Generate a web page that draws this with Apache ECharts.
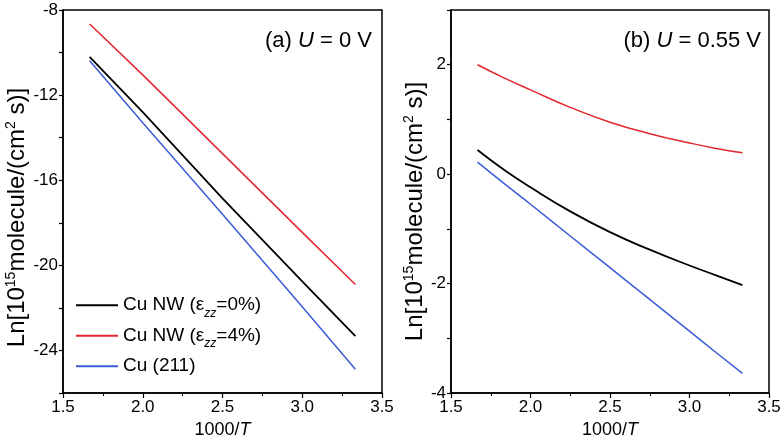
<!DOCTYPE html>
<html>
<head>
<meta charset="utf-8">
<script src="https://cdn.jsdelivr.net/npm/echarts@6/dist/echarts.min.js"></script>
<style>
  html, body { margin: 0; padding: 0; background: #fff; }
  #chart { width: 784px; height: 444px; }
</style>
</head>
<body>
<div id="chart"></div>
<script>
  // 1000/T values
  var xA = [1.667, 2.0, 2.5, 3.0, 3.333];
  // panel (a) U = 0 V
  var aBlack = [-10.2, -12.8, -16.85, -20.75, -23.33];
  var aRed = [-8.66, -11.05, -14.75, -18.45, -20.9];
  var aBlue = [-10.38, -13.3, -17.6, -21.95, -24.88];

  var xB = [1.667, 1.833, 2.0, 2.25, 2.5, 2.75, 3.0, 3.167, 3.333];
  // panel (b) U = 0.55 V
  var bBlack = [0.44, 0.08, -0.24, -0.68, -1.06, -1.38, -1.67, -1.85, -2.03];
  var bRed = [2.0, 1.76, 1.54, 1.22, 0.95, 0.74, 0.57, 0.47, 0.39];
  var bBlue = [0.22, -0.17, -0.55, -1.13, -1.71, -2.29, -2.87, -3.26, -3.64];

  var names = ['Cu NW ({n|ε}{sub|zz}{n|=0%})', 'Cu NW ({n|ε}{sub|zz}{n|=4%})', 'Cu (211)'];
  var colors = ['#000000', '#e3262d', '#3b5bd7'];

  function pairs(xs, ys) {
    return xs.map(function (x, i) { return [x, ys[i]]; });
  }

  var font = 'Liberation Sans, Arial, sans-serif';
  var axisLine = { onZero: false, lineStyle: { color: '#000', width: 1.5 } };
  var yName = 'Ln[10{sup|15}molecule/(cm{sup|2} s)]';
  function nameStyle(pad) {
    return {
      color: '#000', fontFamily: font, fontSize: 24, padding: pad,
      rich: {
        sup: { fontSize: 14, fontFamily: font, color: '#000', verticalAlign: 'top', padding: [0, 0, 12, 0] }
      }
    };
  }
  var xNameStyle = {
    color: '#000', fontFamily: font, fontSize: 18,
    rich: { i: { fontStyle: 'italic', fontSize: 18, fontFamily: font, color: '#000' } }
  };

  function xAxis(idx) {
    return {
      type: 'value', gridIndex: idx, min: 1.5, max: 3.5, interval: 0.5,
      name: '1000/{i|T}', nameLocation: 'middle', nameGap: 28, nameTextStyle: xNameStyle,
      axisLine: axisLine,
      axisTick: { length: 5, lineStyle: { color: '#000', width: 1.2 } },
      minorTick: { show: true, splitNumber: 2, length: 3, lineStyle: { color: '#000' } },
      axisLabel: { color: '#000', fontFamily: font, fontSize: 17, margin: 6,
        formatter: function (v) { return v.toFixed(1); } },
      splitLine: { show: false }
    };
  }

  var titleStyle = { color: '#000', fontFamily: font, fontSize: 22, fontWeight: 'normal',
    rich: { i: { fontStyle: 'italic', fontSize: 22, fontFamily: font, color: '#000' } } };

  var chart = echarts.init(document.getElementById('chart'));
  chart.setOption({
    backgroundColor: '#fff',
    animation: false,
    color: colors,
    title: [
      { text: '(a) {i|U} = 0 V', right: 407, top: 25, textStyle: titleStyle },
      { text: '(b) {i|U} = 0.55 V', right: 18, top: 25, textStyle: titleStyle }
    ],
    legend: {
      orient: 'vertical', left: 71, top: 286,
      icon: 'rect', itemWidth: 42, itemHeight: 2, itemGap: 2,
      data: names,
      textStyle: {
        color: '#000', fontFamily: font, fontSize: 19, lineHeight: 28.5,
        rich: {
          n: { fontSize: 19, fontFamily: font, color: '#000' },
          sub: { fontSize: 12, fontStyle: 'italic', fontFamily: font, color: '#000', verticalAlign: 'bottom', padding: [9, 0, 0, 0] }
        }
      }
    },
    grid: [
      { left: 63, right: 402, top: 10, bottom: 50, show: true, borderColor: '#000', borderWidth: 1.5 },
      { left: 451, right: 15, top: 10, bottom: 50, show: true, borderColor: '#000', borderWidth: 1.5 }
    ],
    xAxis: [xAxis(0), xAxis(1)],
    yAxis: [
      {
        type: 'value', gridIndex: 0, min: -26, max: -8, interval: 2,
        name: yName, nameLocation: 'middle', nameGap: 25, nameTextStyle: nameStyle([0, 32, 0, 0]),
        axisLine: axisLine,
        axisTick: { length: 4, lineStyle: { color: '#000', width: 1.2 } },
        axisLabel: { color: '#000', fontFamily: font, fontSize: 17, margin: 5,
          formatter: function (v) { return v % 4 === 0 ? String(v) : ''; } },
        splitLine: { show: false }
      },
      {
        type: 'value', gridIndex: 1, min: -4, max: 3, interval: 1,
        name: yName, nameLocation: 'middle', nameGap: 21, nameTextStyle: nameStyle([0, 20, 0, 0]),
        axisLine: axisLine,
        axisTick: { length: 4, lineStyle: { color: '#000', width: 1.2 } },
        axisLabel: { color: '#000', fontFamily: font, fontSize: 17, margin: 5,
          formatter: function (v) { return v % 2 === 0 ? String(v) : ''; } },
        splitLine: { show: false }
      }
    ],
    series: [
      { name: names[0], type: 'line', xAxisIndex: 0, yAxisIndex: 0, data: pairs(xA, aBlack), showSymbol: false, lineStyle: { width: 1.8 } },
      { name: names[1], type: 'line', xAxisIndex: 0, yAxisIndex: 0, data: pairs(xA, aRed), showSymbol: false, lineStyle: { width: 1.5 } },
      { name: names[2], type: 'line', xAxisIndex: 0, yAxisIndex: 0, data: pairs(xA, aBlue), showSymbol: false, lineStyle: { width: 1.5 } },
      { name: names[0], type: 'line', xAxisIndex: 1, yAxisIndex: 1, data: pairs(xB, bBlack), showSymbol: false, smooth: true, lineStyle: { width: 1.8 } },
      { name: names[1], type: 'line', xAxisIndex: 1, yAxisIndex: 1, data: pairs(xB, bRed), showSymbol: false, smooth: true, lineStyle: { width: 1.5 } },
      { name: names[2], type: 'line', xAxisIndex: 1, yAxisIndex: 1, data: pairs(xB, bBlue), showSymbol: false, smooth: true, lineStyle: { width: 1.5 } }
    ]
  });
  window.addEventListener('resize', chart.resize);
</script>
</body>
</html>
